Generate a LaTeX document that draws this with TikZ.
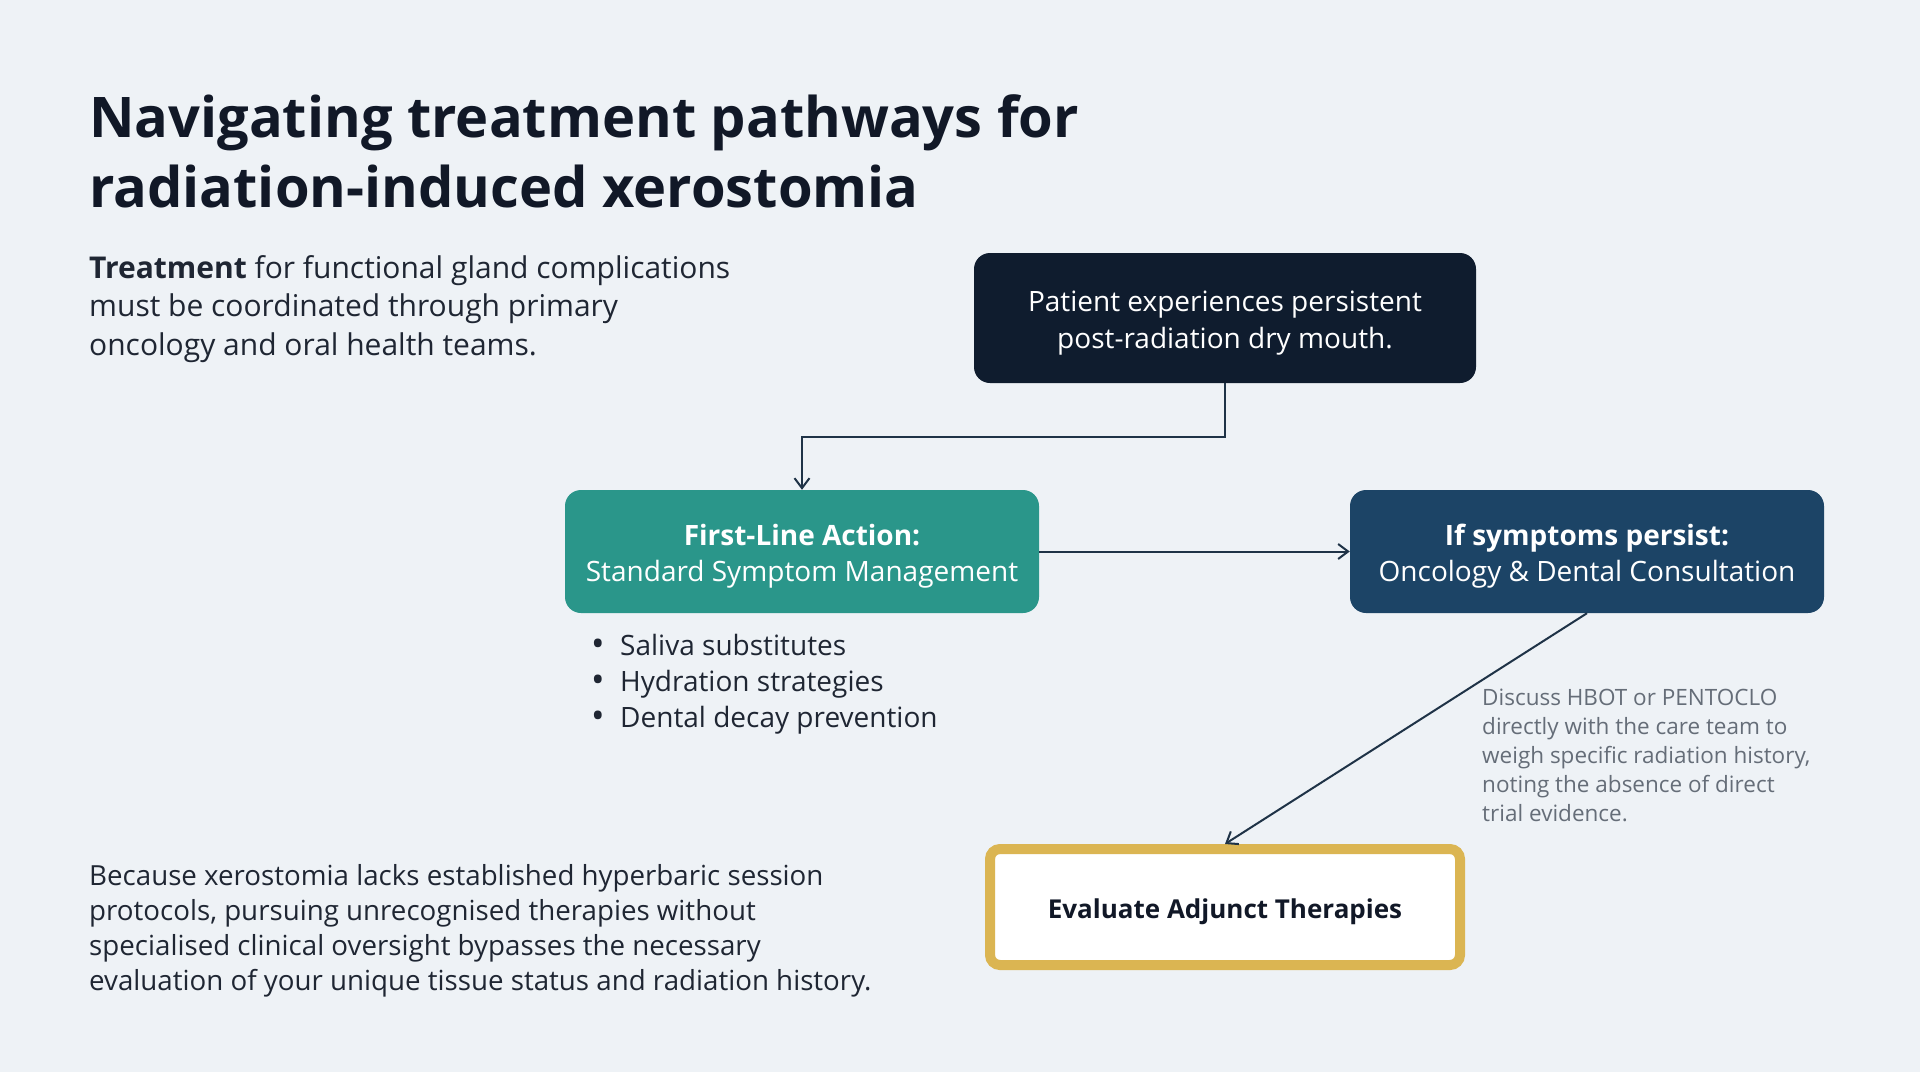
\documentclass[tikz,border=0pt]{standalone}
\usepackage{fontspec}
\setmainfont{Open Sans}
\usetikzlibrary{arrows.meta}
\definecolor{bg}{HTML}{EEF2F6}
\definecolor{navy}{HTML}{0F1C2E}
\definecolor{teal}{HTML}{2A968A}
\definecolor{steel}{HTML}{1C4466}
\definecolor{gold}{HTML}{DBB552}
\definecolor{ink}{HTML}{111827}
\definecolor{body}{HTML}{1F2633}
\definecolor{note}{HTML}{656D78}
\definecolor{wire}{HTML}{1F3347}
\newcommand{\lowerby}[1]{\rule{0pt}{#1}}
\newcommand{\bul}{\makebox[29pt][l]{\raisebox{-1pt}{\fontsize{36}{36}\selectfont •}}}
\tikzset{
  box/.style={rounded corners=16pt, align=center, text=white, inner sep=0pt,
    minimum width=474pt, minimum height=123pt, font=\fontsize{28}{36}\selectfont},
  para/.style={anchor=north west, inner sep=0pt, align=left},
  arr/.style={draw=wire, line width=2pt, -{Straight Barb[length=10pt,width=15pt,line width=2pt]}}
}
\begin{document}
\begin{tikzpicture}[x=1pt,y=-1pt]
\useasboundingbox (0,0) rectangle (1920,1072);
\fill[bg] (0,0) rectangle (1920,1072);

\node[para, text=ink, font=\fontsize{56}{70}\selectfont\bfseries] (title) at (89,94)
  {Navigating treatment pathways for\\radiation-induced xerostomia};

\node[para, text=body, font=\fontsize{30}{38.5}\selectfont] (intro) at (89,255)
  {\textbf{Treatment} for functional gland complications\\must be coordinated through primary\\oncology and oral health teams.};

\node[para, text=body, font=\fontsize{27.7}{35}\selectfont] (warn) at (89,864)
  {Because xerostomia lacks established hyperbaric session\\protocols, pursuing unrecognised therapies without\\specialised clinical oversight bypasses the necessary\\evaluation of your unique tissue status and radiation history.};

\node[box, fill=navy, minimum width=502pt, minimum height=130pt, font=\fontsize{28}{37}\selectfont] (top) at (1225,318)
  {\lowerby{31pt}Patient experiences persistent\\post-radiation dry mouth.};

\node[box, fill=teal] (first) at (802,551.5)
  {\lowerby{30pt}\textbf{First-Line Action:}\\Standard Symptom Management};

\node[box, fill=steel] (persist) at (1587,551.5)
  {\lowerby{30pt}\textbf{If symptoms persist:}\\Oncology \& Dental Consultation};

\node[box, draw=gold, line width=10pt, fill=white, text=ink, minimum width=470pt, minimum height=116pt,
  rounded corners=10pt, font=\fontsize{26}{32}\selectfont\bfseries] (eval) at (1225,907)
  {\lowerby{30pt}Evaluate Adjunct Therapies};

\node[para, text=body, font=\fontsize{28}{36}\selectfont] (bullets) at (591,634)
  {\bul Saliva substitutes\\\bul Hydration strategies\\\bul Dental decay prevention};

\node[para, text=note, font=\fontsize{22.5}{29}\selectfont] (side) at (1482,689)
  {Discuss HBOT or PENTOCLO\\directly with the care team to\\weigh specific radiation history,\\noting the absence of direct\\trial evidence.};

\draw[arr] (top.south) -- ++(0,54) -| (first.north);
\draw[arr] (first.east) -- (persist.west);
\draw[arr] (persist.south) -- (eval.north);
\end{tikzpicture}
\end{document}
